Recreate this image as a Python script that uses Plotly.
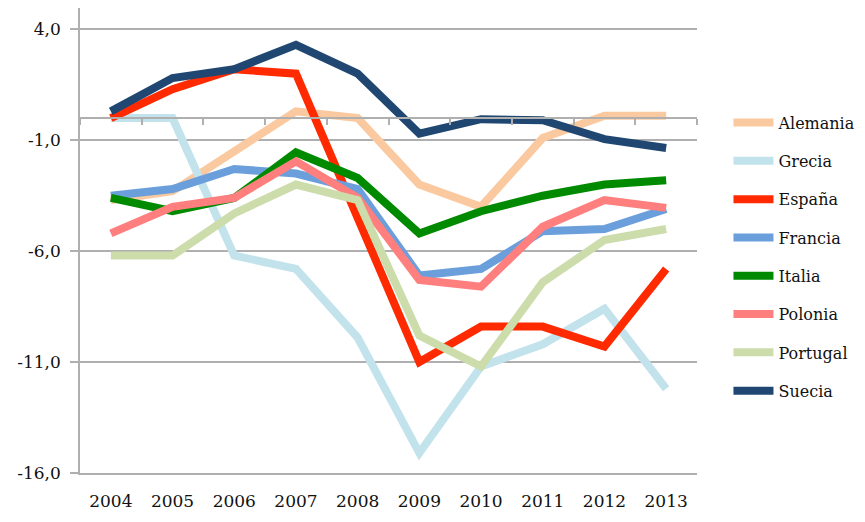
import plotly.graph_objects as go

years = [2004, 2005, 2006, 2007, 2008, 2009, 2010, 2011, 2012, 2013]

alemania = [-3.7, -3.3, -1.5, 0.3, 0.0, -3.0, -4.0, -0.9, 0.1, 0.1]
grecia = [0.0, 0.0, -6.2, -6.8, -9.9, -15.1, -11.2, -10.2, -8.6, -12.2]
espana = [0.0, 1.3, 2.2, 2.0, -4.5, -11.0, -9.4, -9.4, -10.3, -6.8]
francia = [-3.5, -3.2, -2.3, -2.5, -3.2, -7.1, -6.8, -5.1, -5.0, -4.1]
italia = [-3.6, -4.2, -3.6, -1.55, -2.7, -5.2, -4.2, -3.5, -3.0, -2.8]
polonia = [-5.2, -4.0, -3.6, -1.95, -3.6, -7.3, -7.6, -4.9, -3.7, -4.05]
portugal = [-6.2, -6.2, -4.3, -3.0, -3.7, -9.8, -11.2, -7.4, -5.5, -5.0]
suecia = [0.3, 1.8, 2.2, 3.3, 2.0, -0.7, -0.05, -0.1, -0.95, -1.35]

series = [
    ("Alemania", alemania, "#FBC9A0"),
    ("Grecia", grecia, "#C2E2EC"),
    ("España", espana, "#FF2A00"),
    ("Francia", francia, "#6A9FDB"),
    ("Italia", italia, "#008A00"),
    ("Polonia", polonia, "#FF7F7F"),
    ("Portugal", portugal, "#CCDCAA"),
    ("Suecia", suecia, "#1F4771"),
]

y_ticks = [4, -1, -6, -11, -16]
y_tick_labels = ["4,0", "-1,0", "-6,0", "-11,0", "-16,0"]
y_min, y_max = -16, 4.96
boundaries = [y + 0.5 for y in range(2003, 2014)]

fig = go.Figure()
for i, (name, vals, col) in enumerate(series):
    fig.add_trace(go.Scatter(
        x=years, y=vals, name=name, mode="lines",
        line=dict(color=col, width=8),
        legendgroup=name,
    ))

# helper trace so the zero-line category axis is drawn
fig.add_trace(go.Scatter(x=years, y=[None] * len(years), xaxis="x2",
                         showlegend=False, hoverinfo="skip"))

grid = "#AFAFAF"
fig.update_layout(
    width=865, height=522,
    margin=dict(l=80, r=168, t=8, b=49, autoexpand=False),
    paper_bgcolor="white", plot_bgcolor="white",
    font=dict(family="DejaVu Serif", color="#111111", size=16),
    xaxis=dict(
        range=[2003.5, 2013.5], tickvals=years, ticktext=[str(y) for y in years],
        showgrid=False, zeroline=False, showline=True, linecolor=grid, linewidth=1.5,
        ticks="", tickfont=dict(size=17), ticklabelstandoff=12,
    ),
    xaxis2=dict(
        overlaying="x", anchor="free",
        position=(0 - y_min) / (y_max - y_min),
        range=[2003.5, 2013.5], tickvals=boundaries,
        showgrid=False, zeroline=False, showline=True, linecolor=grid, linewidth=1.5,
        ticks="outside", ticklen=6, tickcolor=grid, tickwidth=1.5,
        showticklabels=False,
    ),
    yaxis=dict(
        range=[y_min, y_max], tickvals=y_ticks, ticktext=y_tick_labels,
        showgrid=True, gridcolor=grid, gridwidth=1.5, zeroline=False,
        showline=True, linecolor=grid, linewidth=1.5,
        ticks="outside", ticklen=8, tickcolor=grid, tickwidth=1.5,
        tickfont=dict(size=17), ticklabelstandoff=6,
    ),
    legend=dict(
        x=1.051, xanchor="left", y=0.79, yanchor="top",
        font=dict(size=16), tracegroupgap=14.5, itemwidth=40,
        bgcolor="rgba(0,0,0,0)",
    ),
    showlegend=True,
)

fig.write_html("out.html", config={"displayModeBar": False},
               post_script="document.body.style.margin='0';")
